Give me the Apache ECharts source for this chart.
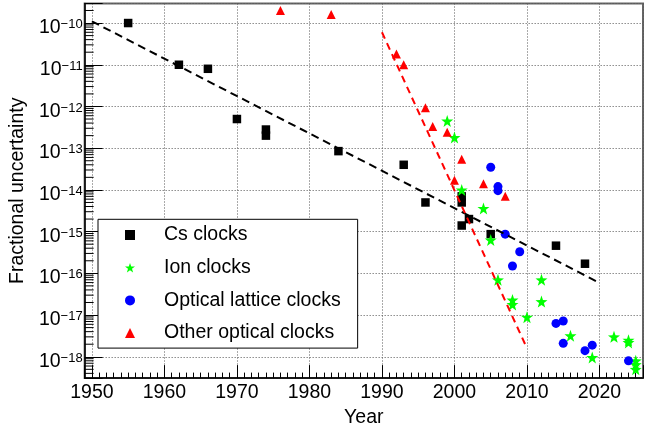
<!DOCTYPE html>
<html>
<head>
<meta charset="utf-8">
<script src="https://cdn.jsdelivr.net/npm/echarts@6/dist/echarts.min.js"></script>
<style>
  html, body { margin: 0; padding: 0; background: #fff; }
  #clockChart { width: 646px; height: 433px; }
</style>
</head>
<body>
<div id="clockChart"></div>
<script>
// data
var csYears = [1955, 1962, 1966, 1970, 1974, 1974, 1984, 1993, 1996, 2001, 2001, 2001, 2002, 2005, 2014, 2018];
var csUnc = [1.0e-10, 1.0e-11, 8e-12, 5e-13, 2.8e-13, 2.0e-13, 8.5e-14, 4e-14, 5e-15, 7e-15, 5e-15, 1.4e-15, 2e-15, 8.7e-16, 4.6e-16, 1.7e-16];

var ionYears = [1999, 2000, 2001, 2004, 2005, 2006, 2008, 2008, 2010, 2012, 2012, 2016, 2019, 2022, 2024, 2024, 2025, 2025, 2025];
var ionUnc = [4.5e-13, 1.8e-13, 1e-14, 3.6e-15, 6.3e-16, 7e-17, 2.3e-17, 1.8e-17, 8.9e-18, 7e-17, 2.1e-17, 3.2e-18, 9.6e-19, 3e-18, 2.5e-18, 2.2e-18, 8e-19, 6.5e-19, 5e-19];

var latticeYears = [2005, 2006, 2006, 2007, 2008, 2009, 2014, 2015, 2015, 2018, 2019, 2024];
var latticeUnc = [3.5e-14, 1.2e-14, 9.6e-15, 8.7e-16, 1.5e-16, 3.3e-16, 6.3e-18, 7.2e-18, 2.1e-18, 1.4e-18, 1.9e-18, 8e-19];

var otherYears = [1976, 1983, 1992, 1993, 1996, 1997, 1999, 2000, 2001, 2004, 2007];
var otherUnc = [2.0e-10, 1.6e-10, 1.8e-11, 1.0e-11, 9.3e-13, 3.3e-13, 2.4e-13, 1.7e-14, 5.4e-14, 1.4e-14, 7e-15];

// trend lines (end points)
var csFitYears = [1950, 2020];
var csFitUnc = [1.1e-10, 5.9e-17];
var opticalFitYears = [1990, 2010];
var opticalFitUnc = [6e-11, 1.6e-18];

var xMin = 1949, xMax = 2026;
var yMin = 3.08e-19, yMax = 2.94e-10;

var FONT = 'Liberation Sans, Arial, sans-serif';
var STAR = 'path://M0,-10L2.35,-3.24L9.51,-3.09L3.8,1.24L5.88,8.09L0,4L-5.88,8.09L-3.8,1.24L-9.51,-3.09L-2.35,-3.24Z';

function pairs(xs, ys) {
    var out = [];
    for (var i = 0; i < xs.length; i++) out.push([xs[i], ys[i]]);
    return out;
}

// minor ticks of the log axis at 2..9 x 10^n
var yMinor = [];
for (var n = -19; n <= -10; n++) {
    for (var m = 2; m <= 9; m++) {
        var v = m * Math.pow(10, n);
        if (v > yMin && v < yMax) yMinor.push([xMin, v]);
    }
}

var mychart = echarts.init(document.getElementById('clockChart'));

var option = {
    animation: false,
    textStyle: {fontFamily: FONT},
    grid: {
        left: 78.6, top: 3.5, width: 571.3, bottom: 49.7,
        show: true, borderColor: '#666', borderWidth: 2, backgroundColor: 'transparent'
    },
    legend: {
        data: ['Cs clocks', 'Ion clocks', 'Optical lattice clocks', 'Other optical clocks'],
        orient: 'vertical',
        left: 98, top: 219.3,
        padding: [4.7, 17, 4, 27],
        itemGap: 10.7,
        itemWidth: 10, itemHeight: 10,
        symbolKeepAspect: true,
        borderColor: '#000', borderWidth: 1,
        backgroundColor: '#fff',
        textStyle: {fontSize: 19.5, color: '#000', lineHeight: 22, padding: [0, 0, 0, 24], fontFamily: FONT}
    },
    xAxis: {
        type: 'value',
        min: xMin, max: xMax,
        splitNumber: 8,
        name: 'Year',
        nameLocation: 'middle',
        nameGap: 23,
        nameTextStyle: {fontSize: 19.5, color: '#000', fontFamily: FONT},
        axisLine: {lineStyle: {color: '#000', width: 1.5}},
        axisTick: {inside: true, length: 13, lineStyle: {color: '#000'}},
        minorTick: {show: true, splitNumber: 10, length: 5.5, lineStyle: {color: '#000'}},
        axisLabel: {
            fontSize: 19.5, color: '#000', margin: 5, fontFamily: FONT,
            formatter: function (v) { return v % 10 === 0 ? String(v) : ''; }
        },
        splitLine: {show: true, lineStyle: {color: '#555', type: [1, 2], width: 1}}
    },
    yAxis: {
        type: 'log',
        logBase: 10,
        min: yMin, max: yMax,
        splitNumber: 10,
        name: 'Fractional uncertainty',
        nameLocation: 'middle',
        nameGap: 55.6,
        nameTextStyle: {fontSize: 19.5, color: '#000', fontFamily: FONT},
        axisLine: {show: true, lineStyle: {color: '#000', width: 1.5}},
        axisTick: {inside: true, length: 18, lineStyle: {color: '#000'}},
        axisLabel: {
            margin: 2,
            formatter: function (v) {
                var e = Math.log10(v);
                var k = Math.round(e);
                if (Math.abs(e - k) > 1e-6) return '';
                return '{b|10}{s|\u2212' + (-k) + '}';
            },
            rich: {
                b: {fontSize: 19.5, color: '#000', lineHeight: 20, padding: [9.4, 0, 0, 0], fontFamily: FONT},
                s: {fontSize: 13, color: '#000', lineHeight: 13, verticalAlign: 'top', padding: [5, 0, 0, 0], fontFamily: FONT}
            }
        },
        splitLine: {show: true, lineStyle: {color: '#555', type: [1, 2], width: 1}}
    },
    series: [
        {
            name: 'y minor ticks',
            type: 'custom',
            silent: true,
            data: yMinor,
            renderItem: function (params, api) {
                var p = api.coord([api.value(0), api.value(1)]);
                return {
                    type: 'line',
                    shape: {x1: p[0], y1: p[1], x2: p[0] + 9, y2: p[1]},
                    style: {stroke: '#000', lineWidth: 1}
                };
            }
        },
        {
            name: 'Cs clocks', type: 'scatter', symbol: 'rect', symbolSize: 8.5,
            itemStyle: {color: '#000', opacity: 1},
            data: pairs(csYears, csUnc)
        },
        {
            name: 'Ion clocks', type: 'scatter', symbol: STAR, symbolSize: 12,
            itemStyle: {color: '#00ff00', opacity: 1},
            data: pairs(ionYears, ionUnc)
        },
        {
            name: 'Optical lattice clocks', type: 'scatter', symbol: 'circle', symbolSize: 9,
            itemStyle: {color: '#0000ff', opacity: 1},
            data: pairs(latticeYears, latticeUnc)
        },
        {
            name: 'Other optical clocks', type: 'scatter', symbol: 'triangle', symbolSize: 9,
            itemStyle: {color: '#ff0000', opacity: 1},
            data: pairs(otherYears, otherUnc)
        },
        {
            name: 'Cs trend', type: 'line', showSymbol: false, silent: true,
            lineStyle: {color: '#000', width: 2, type: [8, 5]},
            data: pairs(csFitYears, csFitUnc)
        },
        {
            name: 'Optical trend', type: 'line', showSymbol: false, silent: true,
            lineStyle: {color: '#ff0000', width: 2, type: [7, 5]},
            data: pairs(opticalFitYears, opticalFitUnc)
        }
    ]
};

mychart.setOption(option);
</script>
</body>
</html>
